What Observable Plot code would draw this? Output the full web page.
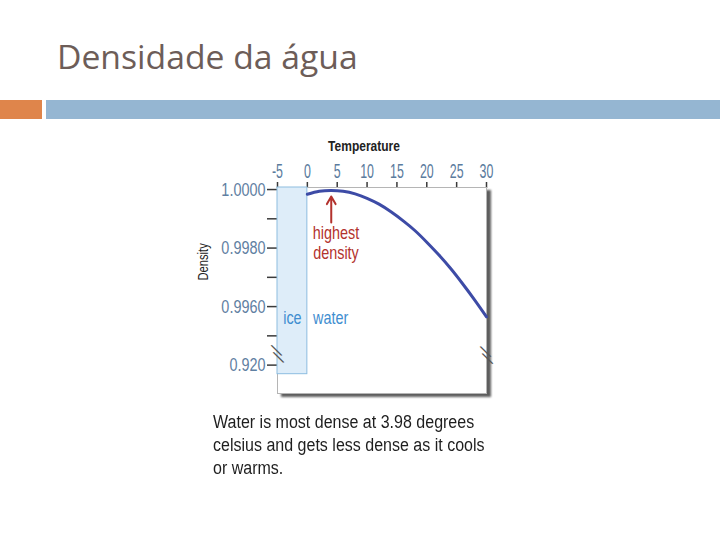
<!DOCTYPE html>
<html>
<head>
<meta charset="utf-8">
<script src="https://cdn.jsdelivr.net/npm/d3@7"></script>
<script src="https://cdn.jsdelivr.net/npm/@observablehq/plot@0.6"></script>
<style>
  html, body { margin: 0; padding: 0; background: #fff; }
  #page { position: relative; width: 720px; height: 540px; overflow: hidden; background: #fff; }
  #title { position: absolute; left: 57px; top: 35px; font-family: "Open Sans", "Lato", sans-serif; font-size: 33.7px; color: #6d5d58; line-height: 42px; white-space: nowrap; }
  .bar { position: absolute; top: 100px; height: 19px; }
  #bar1 { left: 0; width: 42px; background: #df854b; }
  #bar2 { left: 46px; width: 674px; background: #95b6d2; }
  #chart { position: absolute; left: 190px; top: 130px; }
  #caption { position: absolute; left: 213px; top: 411px; font-family: "Liberation Sans", Arial, sans-serif; font-size: 18px; line-height: 23px; color: #1e1e1e; transform: scaleX(0.89); transform-origin: 0 0; white-space: nowrap; }
</style>
</head>
<body>
<div id="page">
  <div id="title"></div>
  <div class="bar" id="bar1"></div>
  <div class="bar" id="bar2"></div>
  <div id="chart"></div>
  <div id="caption"></div>
</div>
<script>
// ---- Data ----
const slideTitle = "Densidade da água";
const captionLines = [
  "Water is most dense at 3.98 degrees",
  "celsius and gets less dense as it cools",
  "or warms."
];
const xLabel = "Temperature";
const yLabel = "Density";
const temperature = [0, 2, 4, 6, 8, 10, 12, 14, 16, 18, 20, 22, 24, 26, 28, 30];
const density = [0.99984, 0.99994, 0.99997, 0.99994, 0.99985, 0.99970, 0.99950, 0.99924,
                 0.99894, 0.99860, 0.99820, 0.99777, 0.99730, 0.99678, 0.99623, 0.99565];
const xTicks = [-5, 0, 5, 10, 15, 20, 25, 30];
const yTickValues = [1.0000, 0.9990, 0.9980, 0.9970, 0.9960, 0.9950, 0.9940];
const yTickLabels = ["1.0000", "", "0.9980", "", "0.9960", "", "0.920"];
const xDomain = [-5, 30];
const yDomain = [0.99303, 1.00007];
const iceRegion = [{x1: -5, x2: 0, y1: 0.99369, y2: 1.00007}];
const phaseLabels = [{t: -2.5, d: 0.99559, label: "ice"}, {t: 3.9, d: 0.99559, label: "water"}];
const peakArrow = [{t: 4, from: 0.99887, to: 0.99976}];
const peakLabel = [{t: 4.8, d: 0.99819, label: "highest\ndensity"}];
const axisBreaks = [{t: -5, d: 0.99440}, {t: 30, d: 0.99436}];
const breakGlyph = "\\";

// ---- Build ----
document.getElementById("title").textContent = slideTitle;
document.getElementById("caption").innerHTML = captionLines.join("<br>");

const rows = temperature.map((t, i) => ({t, d: density[i]}));
const labelMap = new Map(yTickValues.map((v, i) => [v, yTickLabels[i]]));

const chart = Plot.plot({
  width: 320,
  height: 280,
  marginLeft: 87,
  marginRight: 24,
  marginTop: 57,
  marginBottom: 17,
  style: {background: "transparent", overflow: "visible", fontFamily: '"Liberation Sans", Arial, sans-serif', color: "#444"},
  x: {domain: xDomain, axis: "top", ticks: xTicks, tickSize: 6, tickPadding: 4, tickFormat: d => String(d), label: null},
  y: {domain: yDomain, axis: "left", ticks: yTickValues, tickSize: 10, tickPadding: 2, tickFormat: v => labelMap.get(v) ?? "", label: null},
  marks: [
    Plot.frame({fill: "#5e5e5e", stroke: "#5e5e5e", dx: 4, dy: 3}),
    Plot.frame({fill: "#ffffff", stroke: "#b5b5b5"}),
    Plot.rect(iceRegion, {x1: "x1", x2: "x2", y1: "y1", y2: "y2", fill: "#deedf9", stroke: "#8dbde0", strokeWidth: 1}),
    Plot.line(rows, {x: "t", y: "d", curve: "natural", stroke: "#3d4ba6", strokeWidth: 3}),
    Plot.arrow(peakArrow, {x1: "t", x2: "t", y1: "from", y2: "to", stroke: "#b3322d", strokeWidth: 2, headLength: 9}),
    Plot.text(peakLabel, {x: "t", y: "d", text: "label", fill: "#b3322d", fontSize: 18, lineHeight: 1.1}),
    Plot.text(phaseLabels, {x: "t", y: "d", text: "label", fill: "#3f8ed0", fontSize: 18}),
    Plot.text(axisBreaks, {x: "t", y: "d", text: () => breakGlyph, fill: "#555", fontSize: 17, fontFamily: "DejaVu Sans", rotate: -28, dx: -1, dy: -3}),
    Plot.text(axisBreaks, {x: "t", y: "d", text: () => breakGlyph, fill: "#555", fontSize: 17, fontFamily: "DejaVu Sans", rotate: -28, dx: 1, dy: 4}),
    Plot.text([xLabel], {frameAnchor: "top", text: d => d, dx: -18, dy: -47, fontSize: 15, fill: "#222", fontWeight: "bold"}),
    Plot.text([yLabel], {frameAnchor: "left", text: d => d, rotate: -90, dx: -74, dy: -10, fontSize: 14, fill: "#222"})
  ]
});

const svg = d3.select(chart.tagName.toLowerCase() === "svg" ? chart : chart.querySelector("svg"));

function condense(sel, s) {
  sel.each(function() {
    if (this.textContent === breakGlyph) return;
    const T = this.getAttribute("transform") || "";
    const x = parseFloat(this.getAttribute("x")) || 0;
    this.setAttribute("transform", `${T} translate(${x},0) scale(${s},1) translate(${-x},0)`);
  });
}

// blur the shadow frame
const frames = svg.selectAll('[aria-label="frame"]').nodes();
if (frames.length) d3.select(frames[0]).style("filter", "blur(1.3px)");
// axis styling
const xText = svg.selectAll('g[aria-label^="x-axis"] text').attr("fill", "#5a7b9d").style("font-size", "20px");
const yText = svg.selectAll('g[aria-label^="y-axis"] text').attr("fill", "#5f80a2").style("font-size", "19px");
svg.selectAll('g[aria-label^="x-axis"] line, g[aria-label^="x-axis"] path, g[aria-label^="y-axis"] line, g[aria-label^="y-axis"] path').attr("stroke", "#3a3a3a").attr("stroke-width", 1.5);
condense(xText, 0.62);
condense(yText, 0.76);
condense(svg.selectAll('g[aria-label="text"] text'), 0.8);

document.getElementById("chart").appendChild(chart);
</script>
</body>
</html>
